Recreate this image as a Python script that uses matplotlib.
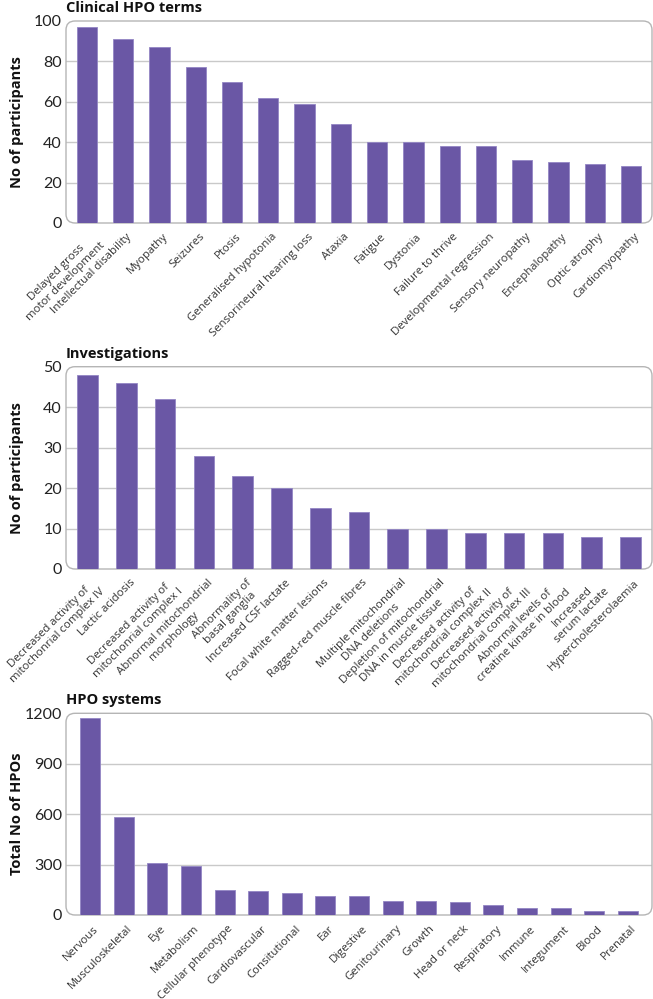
import matplotlib.pyplot as plt
from matplotlib.patches import FancyBboxPatch
from matplotlib.transforms import ScaledTranslation

# --- data -------------------------------------------------------------
clinical_terms = [
    "Delayed gross\nmotor development", "Intellectual disability", "Myopathy",
    "Seizures", "Ptosis", "Generalised hypotonia", "Sensorineural hearing loss",
    "Ataxia", "Fatigue", "Dystonia", "Failure to thrive",
    "Developmental regression", "Sensory neuropathy", "Encephalopathy",
    "Optic atrophy", "Cardiomyopathy",
]
clinical_counts = [97, 91, 87, 77, 70, 62, 59, 49, 40, 40, 38, 38, 31, 30, 29, 28]

investigations = [
    "Decreased activity of\nmitochonrial complex IV", "Lactic acidosis",
    "Decreased activity of\nmitochonrial complex I",
    "Abnormal mitochondrial\nmorphology", "Abnormality of\nbasal ganglia",
    "Increased CSF lactate", "Focal white matter lesions",
    "Ragged-red muscle fibres", "Multiple mitochondrial\nDNA deletions",
    "Depletion of mitochondrial\nDNA in muscle tissue",
    "Decreased activity of\nmitochondrial complex II",
    "Decreased activity of\nmitochondrial complex III",
    "Abnormal levels of\ncreatine kinase in blood", "Increased\nserum lactate",
    "Hypercholesterolaemia",
]
investigation_counts = [48, 46, 42, 28, 23, 20, 15, 14, 10, 10, 9, 9, 9, 8, 8]

systems = [
    "Nervous", "Musculoskeletal", "Eye", "Metabolism", "Cellular phenotype",
    "Cardiovascular", "Consitutional", "Ear", "Digestive", "Genitourinary",
    "Growth", "Head or neck", "Respiratory", "Immune", "Integument", "Blood",
    "Prenatal",
]
system_counts = [1170, 582, 309, 292, 148, 141, 133, 113, 113, 81, 81, 75, 58, 40, 40, 21, 21]

BAR = "#6a57a5"
EDGE = "#9386c4"
GRID = "#c9c9c9"
W, H = 653, 999

fig = plt.figure(figsize=(W / 100, H / 100), dpi=100)


def panel(top, bottom, labels, values, ymax, yticks, width, xpad, title, ylabel):
    ax = fig.add_axes([66 / W, 1 - bottom / H, 586 / W, (bottom - top) / H])
    x = range(len(values))
    ax.bar(x, values, width=width, color=BAR, edgecolor=EDGE, linewidth=0.6, zorder=3)
    ax.set_xlim(-xpad, len(values) - 1 + xpad)
    ax.set_ylim(0, ymax)
    for t in yticks[1:-1]:
        ax.axhline(t, color=GRID, lw=1.0, zorder=1)
    for s in ax.spines.values():
        s.set_visible(False)
    ax_w, ax_h = 586, bottom - top
    box = FancyBboxPatch((0, 0), 1, 1, transform=ax.transAxes,
                         boxstyle="round,pad=0,rounding_size=%f" % (9 / ax_w),
                         mutation_aspect=ax_w / ax_h,
                         fill=False, edgecolor="#b5b5b5", lw=1.0,
                         clip_on=False, zorder=2)
    ax.add_patch(box)
    ax.set_yticks(yticks)
    ax.set_yticklabels([str(t) for t in yticks], fontsize=11.5,
                       family="Lato", color="#222222")
    ax.tick_params(axis="y", length=0, pad=3)
    ax.set_xticks(list(x))
    ax.set_xticklabels(labels, rotation=45, ha="right", va="top",
                       rotation_mode="anchor", fontsize=8.2,
                       family="Open Sans", color="#333333",
                       multialignment="center")
    ax.tick_params(axis="x", length=0, pad=6)
    shift = ScaledTranslation(3 / 100, 0, fig.dpi_scale_trans)
    for lab in ax.get_xticklabels():
        lab.set_transform(lab.get_transform() + shift)
    fig.text(66 / W, 1 - (top - 13) / H, title, fontsize=10.5,
             fontweight="bold", family="Open Sans", va="center", ha="left",
             color="#111111")
    fig.text(17 / W, 1 - (top + bottom) / 2 / H, ylabel, rotation=90,
             fontsize=10.5, fontweight="bold", family="Open Sans",
             va="center", ha="center", color="#111111")
    return ax


panel(21, 223, clinical_terms, clinical_counts, 100, [0, 20, 40, 60, 80, 100],
      0.56, 0.58, "Clinical HPO terms", "No of participants")
panel(366.7, 569, investigations, investigation_counts, 50,
      [0, 10, 20, 30, 40, 50], 0.53, 0.56, "Investigations", "No of participants")
panel(713.3, 915, systems, system_counts, 1200, [0, 300, 600, 900, 1200],
      0.6, 0.72, "HPO systems", "Total No of HPOs")

fig.savefig("out.png", dpi=100)
